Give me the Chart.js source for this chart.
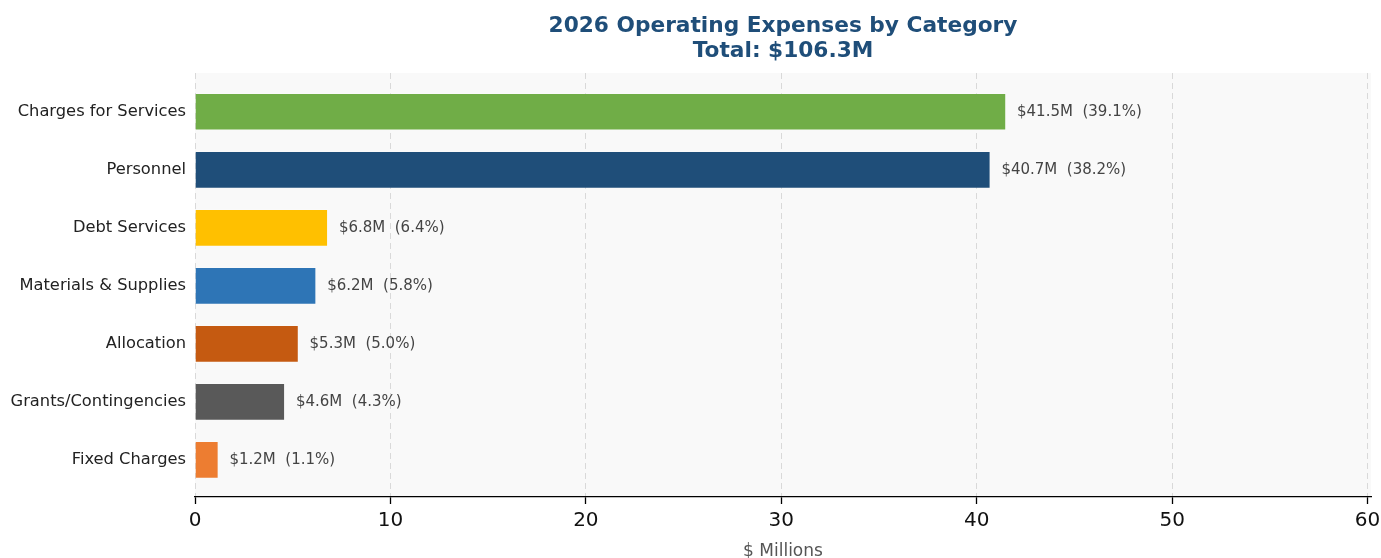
<!DOCTYPE html>
<html><head><meta charset="utf-8">
<script src="https://cdn.jsdelivr.net/npm/chart.js@4/dist/chart.umd.min.js"></script>
<style>html,body{margin:0;padding:0;background:#fff}#wrap{width:1381px;height:558px}</style>
</head><body><div id="wrap"><canvas id="c" width="1381" height="558"></canvas></div>
<script>
const categories = ["Charges for Services","Personnel","Debt Services","Materials & Supplies","Allocation","Grants/Contingencies","Fixed Charges"];
const values = [41.5, 40.7, 6.8, 6.2, 5.3, 4.6, 1.2];
const percents = [39.1, 38.2, 6.4, 5.8, 5.0, 4.3, 1.1];
const colors = ["#70ad47","#1f4e79","#ffc000","#2e75b6","#c55a11","#595959","#ed7d31"];
const xTicks = [0,10,20,30,40,50,60];
const titleLines = ["2026 Operating Expenses by Category","Total: $106.3M"];
const xAxisTitle = "$ Millions";
const FONT = "'DejaVu Sans', sans-serif";

const decor = {
  id:'decor',
  beforeDraw(chart){
    const {ctx, chartArea:a} = chart;
    ctx.save(); ctx.fillStyle='#f9f9f9';
    ctx.fillRect(a.left, a.top, a.right-a.left, a.bottom-a.top);
    ctx.restore();
  },
  afterDatasetsDraw(chart){
    const {ctx, chartArea:a} = chart;
    const meta = chart.getDatasetMeta(0);
    ctx.save();
    ctx.font = "15px " + FONT; ctx.fillStyle = '#444'; ctx.textBaseline='middle'; ctx.textAlign='left';
    meta.data.forEach((el,i)=>{
      ctx.fillText('$' + values[i].toFixed(1) + 'M  (' + percents[i].toFixed(1) + '%)', el.x + 11, el.y);
    });
    const cx = (a.left + a.right)/2;
    ctx.textAlign='center'; ctx.textBaseline='alphabetic';
    ctx.fillStyle='#1f4e79'; ctx.font = "bold 21.7px " + FONT;
    ctx.fillText(titleLines[0], cx, 31.5);
    ctx.fillText(titleLines[1], cx, 57);
    ctx.fillStyle='#555'; ctx.font = "17px " + FONT;
    ctx.fillText(xAxisTitle, cx, 556);
    ctx.restore();
  }
};

new Chart(document.getElementById('c'), {
  type:'bar',
  data:{
    datasets:[{
      data: values.map((v,i)=>({x:v, y:i})),
      backgroundColor: colors,
      borderColor: 'rgba(255,255,255,0.5)',
      borderWidth: 0.8,
      barPercentage: 0.64,
      categoryPercentage: 1
    }]
  },
  options:{
    indexAxis:'y',
    responsive:false,
    animation:false,
    layout:{padding:{top:73,right:10,left:0,bottom:0}},
    plugins:{legend:{display:false},tooltip:{enabled:false},title:{display:false}},
    scales:{
      x:{
        type:'linear', min:0, max:60.175, offset:false,
        afterBuildTicks(s){ s.ticks = xTicks.map(v=>({value:v})); },
        afterFit(s){ s.height = 61; s.paddingLeft = 0; s.paddingRight = 0; },
        grid:{color:'#d9d9d9', lineWidth:1, tickBorderDash:[], tickColor:'#000', tickWidth:1.3, tickLength:7, drawOnChartArea:true, offset:false},
        border:{display:true, color:'#000', width:1.3, dash:[6,4]},
        ticks:{color:'#111', font:{family:FONT, size:20}, padding:5, maxRotation:0}
      },
      y:{
        type:'linear', reverse:true, min:-0.67, max:6.64, offset:false,
        afterBuildTicks(s){ s.ticks = categories.map((_,i)=>({value:i})); },
        afterFit(s){ s.width = 195; s.paddingTop = 0; s.paddingBottom = 0; },
        grid:{display:false, offset:false, tickLength:0, drawTicks:false},
        border:{display:false},
        ticks:{color:'#222', font:{family:FONT, size:16.3}, padding:9, callback:(v)=>categories[v]}
      }
    }
  },
  plugins:[decor]
});
</script></body></html>
